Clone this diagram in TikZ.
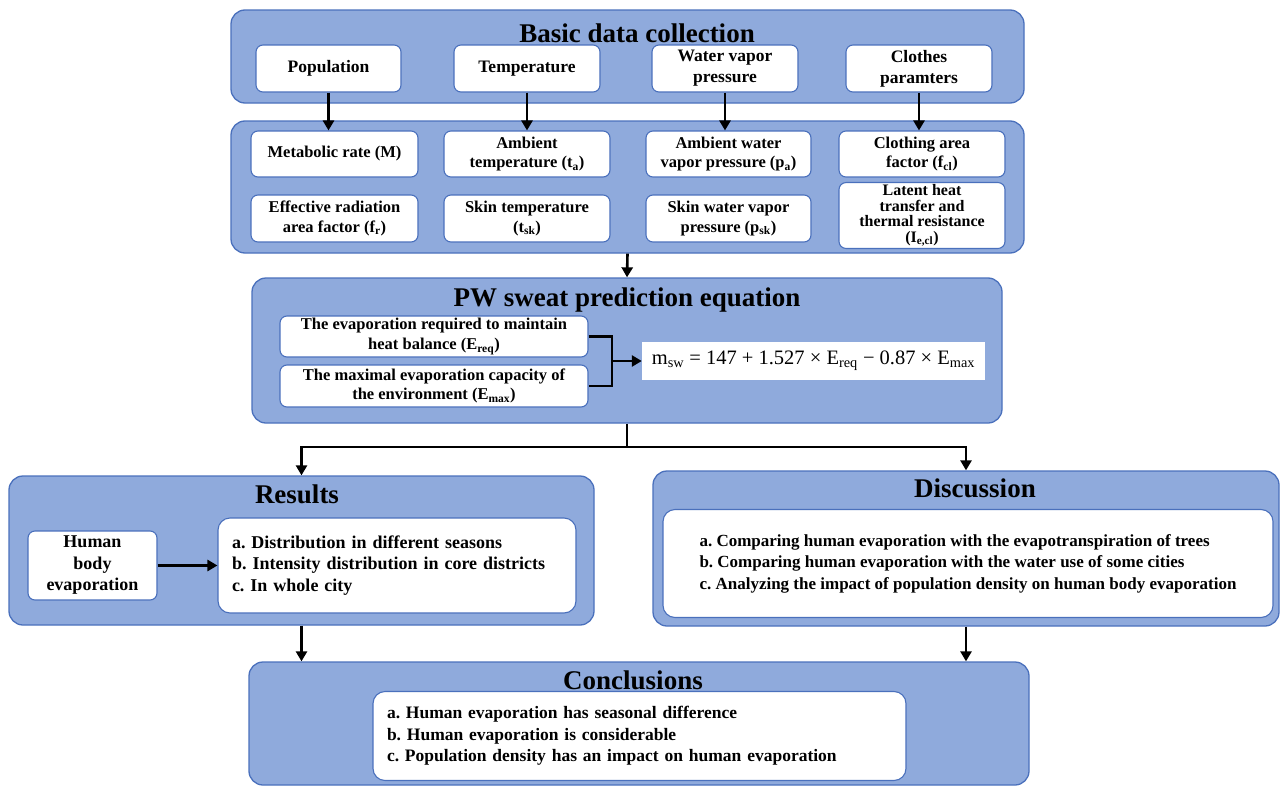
\documentclass[tikz,border=0pt]{standalone}
\usepackage{fontspec}
\setmainfont{Liberation Serif}
\usetikzlibrary{positioning,arrows.meta}

\definecolor{panelfill}{HTML}{8FAADC}
\definecolor{panelline}{HTML}{4A70BC}

\frenchspacing

\begin{document}
\begin{tikzpicture}[
			x=1pt,y=-1pt,
			>={Triangle[length=10pt,width=11pt]},
			panel/.style={
				draw=panelline,
				fill=panelfill,
				line width=1.3pt,
				rounded corners=14pt,
				inner sep=0pt
			},
			item/.style={
				draw=panelline,
				fill=white,
				line width=1.1pt,
				rounded corners=7pt,
				align=center,
				inner sep=2pt,
				font=\fontsize{16.5}{19.5}\selectfont\bfseries
			},
			listbox/.style={
				item,
				align=left,
				font=\fontsize{17.5}{21.5}\selectfont\bfseries
			},
			title/.style={
				anchor=base,
				inner sep=0pt,
				font=\fontsize{27}{30}\selectfont\bfseries
			},
			flow/.style={->,line width=2.6pt},
			link/.style={line width=2.6pt}
			]
			
			\useasboundingbox (0,0) rectangle (1280,787);
			
			%%%%%%%%%%%%%%%%%%%%%%%%%%%%%%%%%%%%%%%%%%%%%%%%%%%%%%
			% Panels
			%%%%%%%%%%%%%%%%%%%%%%%%%%%%%%%%%%%%%%%%%%%%%%%%%%%%%%
			
			\node (collect) [panel, minimum width=793, minimum height=93] at (627.5,56.5) {};
			\node (params) [panel, minimum width=793, minimum height=132] at (627.5,187) {};
			\node (pw) [panel, minimum width=750, minimum height=145] at (627,350.5) {};
			\node (results) [panel, minimum width=585, minimum height=149] at (301.5,550.5) {};
			\node (discuss) [panel, minimum width=626, minimum height=155] at (966,548.5) {};
			\node (concl) [panel, minimum width=780, minimum height=123] at (639,723.5) {};
			
			\node [title] at (637,42) {Basic data collection};
			\node [title] at (627,306) {PW sweat prediction equation};
			\node [title] at (297,503) {Results};
			\node [title] at (975,497) {Discussion};
			\node [title] at (633,689) {Conclusions};
			
			%%%%%%%%%%%%%%%%%%%%%%%%%%%%%%%%%%%%%%%%%%%%%%%%%%%%%%
			% Basic data
			%%%%%%%%%%%%%%%%%%%%%%%%%%%%%%%%%%%%%%%%%%%%%%%%%%%%%%
			
			\begin{scope}[every node/.append style={item, minimum height=47, font=\fontsize{17.5}{21}\selectfont\bfseries}]
				\node (pop) [minimum width=145] at (328.5,68.5) {Population};
				\node (temp) [minimum width=146] at (527,68.5) {Temperature};
				\node (vapor) [minimum width=146] at (725,68.5) {Water vapor\\pressure};
				\node (clothes) [minimum width=146] at (919,68.5) {Clothes\\paramters};
			\end{scope}
			
			\begin{scope}[every node/.append style={item, minimum height=46}]
				\node (met) [minimum width=167] at (334.5,154) {Metabolic rate (M)};
				\node (ambt) [minimum width=166] at (527,154) {Ambient\\temperature (t\textsubscript{a})};
				\node (ambp) [minimum width=165] at (728.5,154) {Ambient water\\vapor pressure (p\textsubscript{a})};
				\node (fcl) [minimum width=166] at (922,154) {Clothing area\\factor (f\textsubscript{cl})};
				
				\node (fr) [minimum width=167, minimum height=47] at (334.5,218.5) {Effective radiation\\area factor (f\textsubscript{r})};
				\node (tsk) [minimum width=166, minimum height=47] at (527,218.5) {Skin temperature\\(t\textsubscript{sk})};
				\node (psk) [minimum width=165, minimum height=47] at (728.5,218.5) {Skin water vapor\\pressure (p\textsubscript{sk})};
				\node (iecl) [minimum width=166, minimum height=63, font=\fontsize{16}{15.5}\selectfont\bfseries] at (922,215.5)
				{Latent heat\\transfer and\\thermal resistance\\(I\textsubscript{e,cl})};
			\end{scope}
			
			%%%%%%%%%%%%%%%%%%%%%%%%%%%%%%%%%%%%%%%%%%%%%%%%%%%%%%
			% Sweat equation
			%%%%%%%%%%%%%%%%%%%%%%%%%%%%%%%%%%%%%%%%%%%%%%%%%%%%%%
			
			\node (ereq) [item, minimum width=308, minimum height=41] at (434,336.5)
			{The evaporation required to maintain\\heat balance (E\textsubscript{req})};
			
			\node (emax) [item, minimum width=308, minimum height=42] at (434,386)
			{The maximal evaporation capacity of\\the environment (E\textsubscript{max})};
			
			\node (eqn) [fill=white, minimum width=343, minimum height=38, inner sep=0pt,
			font=\fontsize{20.5}{24}\selectfont] at (813.5,361)
			{m\textsubscript{sw} = 147 + 1.527 × E\textsubscript{req} − 0.87 × E\textsubscript{max}};
			
			\coordinate (join) at (612,361);
			
			%%%%%%%%%%%%%%%%%%%%%%%%%%%%%%%%%%%%%%%%%%%%%%%%%%%%%%
			% Results, discussion, conclusions
			%%%%%%%%%%%%%%%%%%%%%%%%%%%%%%%%%%%%%%%%%%%%%%%%%%%%%%
			
			\node (human) [item, minimum width=129, minimum height=69,
			font=\fontsize{18}{21.5}\selectfont\bfseries] at (92.5,565.5)
			{Human\\body\\evaporation};
			
			\node (reslist) [listbox, rounded corners=12pt, inner xsep=14pt, text width=330, minimum height=95,
			font=\fontsize{18}{21.5}\selectfont\bfseries] at (397,565.5)
			{a. Distribution in different seasons\\
				b. Intensity distribution in core districts\\
				c. In whole city};
			
			\node (disclist) [listbox, rounded corners=12pt, minimum width=610, minimum height=108,
			font=\fontsize{17}{21.5}\selectfont\bfseries] at (968,563.5)
			{a. Comparing human evaporation with the evapotranspiration of trees\\
				b. Comparing human evaporation with the water use of some cities\\
				c. Analyzing the impact of population density on human body evaporation};
			
			\node (conclist) [listbox, rounded corners=12pt, inner xsep=14pt, text width=505, minimum height=89] at (639.5,736)
			{a. Human evaporation has seasonal difference\\
				b. Human evaporation is considerable\\
				c. Population density has an impact on human evaporation};
			
			\coordinate (split) at (627,447);
			
			%%%%%%%%%%%%%%%%%%%%%%%%%%%%%%%%%%%%%%%%%%%%%%%%%%%%%%
			% Flow
			%%%%%%%%%%%%%%%%%%%%%%%%%%%%%%%%%%%%%%%%%%%%%%%%%%%%%%
			
			\draw[flow] (pop.south) -- (pop.south |- met.north);
			\draw[flow] (temp.south) -- (temp.south |- ambt.north);
			\draw[flow] (vapor.south) -- (vapor.south |- ambp.north);
			\draw[flow] (clothes.south) -- (clothes.south |- fcl.north);
			
			\draw[flow] (params.south) -- (pw.north);
			
			\draw[link] (ereq.east) -| (join) |- (emax.east);
			\draw[flow] (join) -- (eqn.west);
			
			\draw[link] (pw.south) -- (split);
			\draw[flow] (split) -| (results.north);
			\draw[flow] (split) -| (discuss.north);
			
			\draw[flow] (human.east) -- (reslist.west);
			
			\draw[flow] (results.south) -- (results.south |- concl.north);
			\draw[flow] (discuss.south) -- (discuss.south |- concl.north);
			
			%%%%%%%%%%%%%%%%%%%%%%%%%%%%%%%%%%%%%%%%%%%%%%%%%%%%%%
			
		\end{tikzpicture}
\end{document}
